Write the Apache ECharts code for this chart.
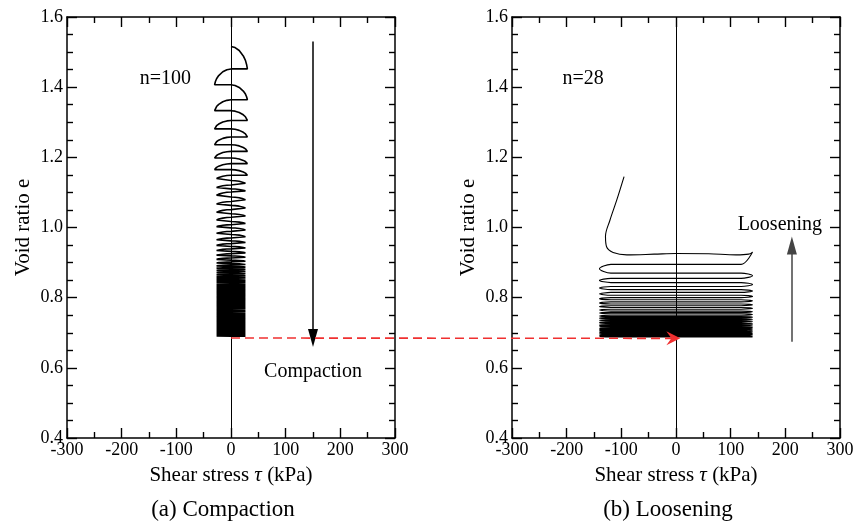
<!DOCTYPE html>
<html>
<head>
<meta charset="utf-8">
<script src="https://cdn.jsdelivr.net/npm/echarts@6/dist/echarts.min.js"></script>
<style>
  html, body { margin: 0; padding: 0; background: #fff; }
  #chart { width: 857px; height: 528px; }
</style>
</head>
<body>
<div id="chart"></div>
<script>
// (a) compaction: e at the start and at each tip of the half cycles (+30, -30, +30, ...)
const compactStart = 1.516;
const compactTips = [
  1.452, 1.407, 1.364, 1.333, 1.305, 1.281, 1.258, 1.236, 1.217, 1.198,
  1.182, 1.165, 1.149, 1.134, 1.121, 1.110, 1.101, 1.087, 1.074, 1.063,
  1.051, 1.039, 1.029, 1.017, 1.008, 0.999, 0.989, 0.980, 0.970, 0.962,
  0.954, 0.946, 0.939, 0.932, 0.925, 0.919, 0.913, 0.907, 0.902, 0.897,
  0.893, 0.889, 0.886, 0.883, 0.880, 0.877, 0.874, 0.871, 0.868, 0.865,
  0.862, 0.860, 0.857, 0.855, 0.852, 0.850, 0.847, 0.845, 0.843, 0.841,
  0.838, 0.836, 0.834, 0.832, 0.830, 0.828, 0.826, 0.824, 0.822, 0.820,
  0.818, 0.816, 0.815, 0.813, 0.811, 0.809, 0.807, 0.806, 0.804, 0.802,
  0.801, 0.799, 0.797, 0.796, 0.794, 0.793, 0.791, 0.789, 0.788, 0.786,
  0.785, 0.783, 0.782, 0.780, 0.779, 0.777, 0.776, 0.774, 0.773, 0.772,
  0.770, 0.769, 0.767, 0.766, 0.765, 0.763, 0.762, 0.761, 0.759, 0.758,
  0.757, 0.755, 0.754, 0.753, 0.752, 0.750, 0.749, 0.748, 0.747, 0.745,
  0.744, 0.743, 0.742, 0.741, 0.739, 0.738, 0.737, 0.736, 0.735, 0.734,
  0.733, 0.731, 0.730, 0.729, 0.728, 0.727, 0.726, 0.725, 0.724, 0.723,
  0.722, 0.721, 0.720, 0.719, 0.718, 0.717, 0.716, 0.715, 0.714, 0.713,
  0.712, 0.711, 0.710, 0.709, 0.708, 0.707, 0.706, 0.705, 0.704, 0.703,
  0.702, 0.701, 0.700, 0.699, 0.698, 0.697, 0.696, 0.695, 0.694, 0.693,
  0.692, 0.691, 0.690, 0.690
];
const compactAmp = 30;
// one loading branch: share of the tau amplitude vs share of the e drop
const arcTau = [0, 0.25, 0.5, 0.75, 0.88, 0.95, 1];
const arcDrop = [0, 0.05, 0.18, 0.42, 0.62, 0.8, 1];

// (b) loosening: the first (large) branch, then the level of each pass between -140 and +140
const looseStart = [
  [-95, 1.145], [-108, 1.08], [-121, 1.02], [-129, 0.975], [-127, 0.945],
  [-115, 0.929], [-90, 0.922], [-40, 0.924], [0, 0.926], [60, 0.925],
  [110, 0.922], [133, 0.924], [140, 0.93]
];
const looseLevels = [
  0.895, 0.870, 0.855, 0.843, 0.832, 0.823, 0.815, 0.807, 0.800, 0.794,
  0.788, 0.782, 0.777, 0.772, 0.767, 0.762, 0.758, 0.754, 0.750, 0.746,
  0.743, 0.740, 0.737, 0.734, 0.731, 0.728, 0.726, 0.724, 0.722, 0.720,
  0.718, 0.716, 0.714, 0.712, 0.711, 0.709, 0.708, 0.706, 0.705, 0.704,
  0.702, 0.701, 0.700, 0.699, 0.698, 0.697, 0.696, 0.695, 0.694, 0.693,
  0.692, 0.691, 0.690, 0.689, 0.689, 0.688
];
const looseAmp = 140;
const passTau = [0.85, 0.4, 0, -0.4, -0.85];

// annotations
const compactArrow = [[150, 1.53], [150, 0.685]];
const looseArrow = [[212, 0.674], [212, 0.949]];
const compactNotes = [[-120, 1.424, 'n=100'], [150, 0.59, 'Compaction']];
const looseNotes = [[-170, 1.424, 'n=28'], [190, 1.009, 'Loosening']];
const redFrom = [0, 0.685];
const redTo = [8, 0.684];
const captions = ['(a) Compaction', '(b) Loosening'];

const FONT = 'Liberation Serif';

function compactPath() {
  const pts = [[0, compactStart]];
  let eTop = compactStart;
  compactTips.forEach((eEnd, i) => {
    const side = i % 2 === 0 ? 1 : -1;
    for (let j = 1; j < arcTau.length; j++) {
      pts.push([side * compactAmp * arcTau[j], eTop - (eTop - eEnd) * arcDrop[j]]);
    }
    pts.push([0, eEnd]);
    eTop = eEnd;
  });
  return pts;
}

function loosePath() {
  const pts = looseStart.slice();
  let side = 1; // first pass leaves from the +140 tip
  looseLevels.forEach((lv, i) => {
    const next = i + 1 < looseLevels.length ? (lv + looseLevels[i + 1]) / 2 : lv;
    passTau.forEach(f => pts.push([side * looseAmp * f, lv]));
    pts.push([-side * looseAmp, next]);
    side = -side;
  });
  return pts;
}

const tickStyle = { color: '#000', width: 1.4 };

function xAxes(g) {
  const base = {
    type: 'value', gridIndex: g, min: -300, max: 300, interval: 100,
    axisLine: { onZero: false, lineStyle: { color: '#000', width: 1.5 } },
    axisTick: { inside: true, length: 10, lineStyle: tickStyle },
    minorTick: { show: true, splitNumber: 2, length: 6, lineStyle: tickStyle },
    splitLine: { show: false }
  };
  return [
    Object.assign({}, base, {
      position: 'bottom',
      axisLabel: { color: '#000', fontFamily: FONT, fontSize: 18, margin: 3 },
      name: '{a|Shear stress }{i|τ}{a| (kPa)}',
      nameLocation: 'middle', nameGap: 27,
      nameTextStyle: {
        rich: {
          a: { fontFamily: FONT, fontSize: 21, color: '#000' },
          i: { fontFamily: FONT, fontSize: 21, fontStyle: 'italic', color: '#000' }
        }
      }
    }),
    Object.assign({}, base, { position: 'top', axisLabel: { show: false } })
  ];
}

function yAxes(g) {
  const base = {
    type: 'value', gridIndex: g, min: 0.4, max: 1.6, interval: 0.2,
    axisLine: { onZero: false, lineStyle: { color: '#000', width: 1.5 } },
    axisTick: { inside: true, length: 10, lineStyle: tickStyle },
    minorTick: { show: true, splitNumber: 4, length: 6, lineStyle: tickStyle },
    splitLine: { show: false }
  };
  return [
    Object.assign({}, base, {
      position: 'left',
      axisLabel: { color: '#000', fontFamily: FONT, fontSize: 18, margin: 4,
        formatter: v => v.toFixed(1) },
      name: 'Void ratio e', nameLocation: 'middle', nameGap: 33,
      nameTextStyle: { fontFamily: FONT, fontSize: 21, color: '#000' }
    }),
    Object.assign({}, base, { position: 'right', axisLabel: { show: false } })
  ];
}

function zeroLine() {
  return {
    silent: true, symbol: ['none', 'none'], label: { show: false },
    lineStyle: { color: '#000', width: 1, type: 'solid' },
    data: [{ xAxis: 0 }]
  };
}

function arrowSeries(pts, xi, yi, color) {
  return {
    type: 'line', xAxisIndex: xi, yAxisIndex: yi, data: [], silent: true,
    markLine: {
      silent: true, label: { show: false },
      lineStyle: { color: color, width: 1.5, type: 'solid' },
      data: [[
        { coord: pts[0], symbol: 'none' },
        { coord: pts[1], symbol: 'triangle', symbolSize: [10, 18] }
      ]]
    }
  };
}

const chart = echarts.init(document.getElementById('chart'), null, { renderer: 'canvas' });

chart.setOption({
  animation: false,
  backgroundColor: '#fff',
  grid: [
    { left: 67, top: 17, width: 328, height: 421, outerBoundsMode: 'none' },
    { left: 512, top: 17, width: 328, height: 421, outerBoundsMode: 'none' }
  ],
  xAxis: [...xAxes(0), ...xAxes(1)],
  yAxis: [...yAxes(0), ...yAxes(1)],
  series: [
    {
      type: 'line', xAxisIndex: 0, yAxisIndex: 0, data: compactPath(),
      showSymbol: false, symbol: 'none', smooth: false,
      lineStyle: { color: '#000', width: 1.6 },
      markLine: zeroLine()
    },
    {
      type: 'line', xAxisIndex: 2, yAxisIndex: 2, data: loosePath(),
      showSymbol: false, symbol: 'none', smooth: 0.35,
      lineStyle: { color: '#000', width: 1.1 },
      markLine: zeroLine()
    },
    arrowSeries(compactArrow, 0, 0, '#000'),
    arrowSeries(looseArrow, 2, 2, '#444')
  ]
});

// texts and the red dashed link, placed through the axes' own scales
const graphics = [];
function addNotes(list, g) {
  list.forEach(n => {
    const p = chart.convertToPixel({ gridIndex: g }, [n[0], n[1]]);
    graphics.push({ type: 'text', x: p[0], y: p[1], z: 20,
      style: { text: n[2], font: '20px "Liberation Serif"', fill: '#000',
        textAlign: 'center', textVerticalAlign: 'middle' } });
  });
}
addNotes(compactNotes, 0);
addNotes(looseNotes, 1);

[0, 1].forEach(g => {
  const a = chart.convertToPixel({ gridIndex: g }, [0, 0.4]);
  graphics.push({ type: 'text', x: a[0] - 8, y: 510, z: 20,
    style: { text: captions[g], font: '23px "Liberation Serif"', fill: '#000',
      textAlign: 'center', textVerticalAlign: 'middle' } });
});

const p0 = chart.convertToPixel({ gridIndex: 0 }, redFrom);
const p1 = chart.convertToPixel({ gridIndex: 1 }, redTo);
graphics.push(
  { type: 'line', z: 20, shape: { x1: p0[0], y1: p0[1], x2: p1[0] - 8, y2: p1[1] },
    style: { stroke: '#f03030', lineWidth: 1.6, lineDash: [9, 5] } },
  { type: 'polygon', z: 20, shape: { points: [[p1[0], p1[1]], [p1[0] - 14, p1[1] - 7],
    [p1[0] - 9, p1[1]], [p1[0] - 14, p1[1] + 7]] },
    style: { fill: '#f03030' } }
);
chart.setOption({ graphic: graphics });
</script>
</body>
</html>
